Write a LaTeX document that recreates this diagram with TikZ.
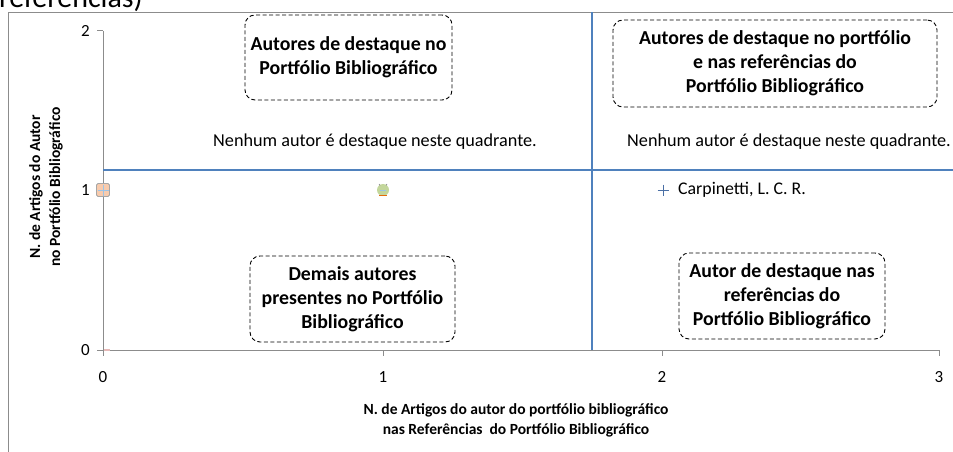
\documentclass[tikz,border=0pt]{standalone}
\usepackage{fontspec}
\setmainfont{Carlito}
\definecolor{axisgray}{HTML}{8C8C8C}
\definecolor{xlblue}{HTML}{4F81BD}
\definecolor{peach}{HTML}{F8CBAD}
\definecolor{mkborder}{HTML}{A6A6A6}
\definecolor{lightblue}{HTML}{9DC3E6}
\definecolor{mkgreen}{HTML}{C3D69B}
\definecolor{mkorange}{HTML}{E46C0A}
\definecolor{mkpink}{HTML}{E6B9B8}
\definecolor{plusblue}{HTML}{4A6FA5}
\begin{document}
\begin{tikzpicture}[x=1pt,y=-1pt,
  axisline/.style={draw=axisgray, line width=1pt},
  quadline/.style={draw=xlblue, line width=1.3pt},
  qbox/.style={draw=black, dash pattern=on 4pt off 2.5pt, line width=0.9pt,
    rounded corners=10pt, align=center, inner sep=0pt,
    font=\fontsize{19.8}{24}\selectfont\bfseries},
  ticklabel/.style={font=\fontsize{17}{20}\selectfont, inner sep=0pt},
  note/.style={font=\fontsize{18.2}{22}\selectfont, inner sep=0pt},
  axtitle/.style={font=\fontsize{15.5}{20}\selectfont\bfseries, align=center, inner sep=0pt}]
\useasboundingbox (0,0) rectangle (953,452);
\clip (0,0) rectangle (953,452);
% cropped caption text at top
\node[anchor=base west, font=\fontsize{30}{36}\selectfont, inner sep=0pt] (caption) at (-1,8) {referências)};
% chart frame
\coordinate (frBL) at (8.5,470);
\coordinate (frTL) at (8.5,12.5);
\coordinate (frTR) at (970,12.5);
\draw[axisgray, line width=1pt] (frBL) -- (frTL) -- (frTR);
% axes
\coordinate (O) at (103,350);
\coordinate (Y2) at (103,31);
\coordinate (X3) at (939,350);
\draw[axisline] (Y2) -- (O) -- (X3);
\foreach \yy in {31,190,350} \draw[axisline] (97,\yy) -- (103,\yy);
\foreach \xx in {103,383,662,939} \draw[axisline] (\xx,350) -- (\xx,356);
% tick labels
\node[ticklabel, anchor=east] (y2) at (90,31) {2};
\node[ticklabel, anchor=east] (y1) at (90,190) {1};
\node[ticklabel, anchor=east] (y0) at (90,350) {0};
\node[ticklabel] (x0) at (103,377) {0};
\node[ticklabel] (x1) at (383,377) {1};
\node[ticklabel] (x2) at (662,377) {2};
\node[ticklabel] (x3) at (939,377) {3};
% quadrant lines
\coordinate (hL) at (103,170);
\coordinate (hR) at (960,170);
\coordinate (vT) at (592,12.5);
\coordinate (vB) at (592,350);
\draw[quadline] (hL) -- (hR);
\draw[quadline] (vT) -- (vB);
% quadrant boxes
\node[qbox, minimum width=207pt, minimum height=85pt] (q1) at (348.5,57.5)
  {Autores de destaque no\\Portfólio Bibliográfico};
\node[qbox, minimum width=324pt, minimum height=87pt] (q2) at (775,63.5)
  {Autores de destaque no portfólio\\e nas referências do\\Portfólio Bibliográfico};
\node[qbox, minimum width=205pt, minimum height=86pt] (q3) at (352.5,299)
  {Demais autores\\presentes no Portfólio\\Bibliográfico};
\node[qbox, minimum width=206pt, minimum height=86pt] (q4) at (782,296)
  {Autor de destaque nas\\referências do\\Portfólio Bibliográfico};
% notes
\node[note] (n1) at (375,142) {Nenhum autor é destaque neste quadrante.};
\node[note, anchor=west] (n2) at (627,142) {Nenhum autor é destaque neste quadrante.};
% markers
\node[draw=mkborder, fill=peach, minimum size=13pt, inner sep=0pt, rounded corners=1.5pt, line width=0.8pt] (m01) at (103,190) {};
\draw[lightblue, line width=0.8pt] (97.5,190) -- (108.5,190) (103,184.5) -- (103,195.5);
\node[circle, fill=mkgreen, minimum size=12pt, inner sep=0pt] (m11) at (383,190) {};
\draw[lightblue, line width=1pt] (380,190) -- (386,190);
\draw[mkorange, line width=1.2pt] (379,195.5) -- (387,195.5);
\draw[gray, line width=0.6pt] (379,184) -- (380,185.5) (387,184) -- (386,185.5);
\draw[mkpink, line width=2.5pt] (104,350) -- (110,350);
\draw[plusblue, line width=0.9pt] (657.5,190) -- (668.5,190) (663,184.5) -- (663,195.5);
\node[ticklabel, anchor=west, font=\fontsize{17.8}{20}\selectfont] (carp) at (678,190) {Carpinetti, L. C. R.};
% axis titles
\node[axtitle] (xt) at (516,420) {N. de Artigos do autor do portfólio bibliográfico\\nas Referências\ \ do Portfólio Bibliográfico};
\node[axtitle, rotate=90] (yt) at (46,187) {N. de Artigos do Autor\\no Portfólio Bibliográfico};
\end{tikzpicture}
\end{document}
